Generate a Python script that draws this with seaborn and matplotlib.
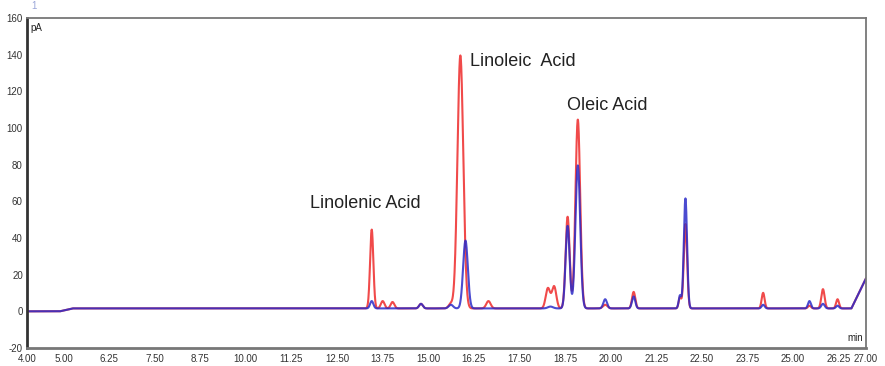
import numpy as np
import pandas as pd
import matplotlib
matplotlib.use("Agg")
import matplotlib.pyplot as plt
import seaborn as sns
from matplotlib.ticker import MultipleLocator, FixedLocator

# ---- data (peak retention time [min], height [pA], width sigma [min])
red_rt     = [13.45, 13.75, 14.02, 14.80, 15.62, 15.88, 16.65, 18.28, 18.45, 18.82, 19.10, 19.85, 20.63, 21.90, 22.05, 24.18, 25.45, 25.82, 26.22]
red_height = [43.0,  4.0,   3.5,   2.5,   2.5,   138.0, 4.0,   11.0,  12.0,  50.0,  103.0, 2.0,   9.0,   6.0,   46.0,  8.5,   1.5,   10.5,  5.0]
red_sigma  = [0.045, 0.05,  0.05,  0.05,  0.06,  0.08,  0.06,  0.06,  0.06,  0.055, 0.065, 0.06,  0.045, 0.035, 0.045, 0.04,  0.04,  0.045, 0.04]

blue_rt     = [13.45, 14.80, 15.62, 16.02, 18.35, 18.82, 19.10, 19.85, 20.63, 21.90, 22.05, 24.18, 25.45, 25.82, 26.22]
blue_height = [4.0,   2.5,   2.0,   37.0,  1.0,   45.0,  78.0,  5.0,   6.5,   7.0,   60.0,  2.0,   4.0,   2.5,   1.5]
blue_sigma  = [0.045, 0.05,  0.06,  0.065, 0.07,  0.055, 0.065, 0.05,  0.045, 0.035, 0.045, 0.04,  0.04,  0.045, 0.04]

# baseline knots (time, pA) and final upward drift
base_t = [4.00, 4.90, 5.25, 26.60, 27.00]
base_v = [0.0,  0.0,  1.6,  1.6,   18.0]

labels   = ["Linolenic Acid", "Linoleic  Acid", "Oleic Acid"]
label_t  = [11.75, 16.14, 18.79]
label_v  = [59.0, 136.0, 112.0]

x_major = [4.00, 5.00, 6.25, 7.50, 8.75, 10.00, 11.25, 12.50, 13.75, 15.00, 16.25,
           17.50, 18.75, 20.00, 21.25, 22.50, 23.75, 25.00, 26.25, 27.00]
y_major = [-20, 0, 20, 40, 60, 80, 100, 120, 140, 160]

# ---- build traces
t = np.linspace(4.0, 27.0, 6000)
def trace(rts, hs, ss):
    y = np.interp(t, base_t, base_v)
    for r, h, s in zip(rts, hs, ss):
        y = y + h * np.exp(-0.5 * ((t - r) / s) ** 2)
    return y

df = pd.concat([
    pd.DataFrame({"t": t, "pA": trace(red_rt, red_height, red_sigma), "run": "A"}),
    pd.DataFrame({"t": t, "pA": trace(blue_rt, blue_height, blue_sigma), "run": "B"}),
])

sns.set_style("white")
plt.rcParams["font.family"] = ["Liberation Sans", "DejaVu Sans"]

fig = plt.figure(figsize=(8.85, 3.66), dpi=100)
ax = fig.add_axes([27/885, 18/366, (866-27)/885, (348-18)/366])

sns.lineplot(data=df, x="t", y="pA", hue="run", palette={"A": "#ee2a2a", "B": "#2b2bc8"},
             ax=ax, legend=False, linewidth=1.5, alpha=0.85, estimator=None, sort=False)

ax.set_xlim(4.0, 27.0)
ax.set_ylim(-20, 160)
ax.set_xlabel("")
ax.set_ylabel("")

ax.xaxis.set_major_locator(FixedLocator(x_major))
ax.set_xticklabels([f"{v:.2f}" for v in x_major])
ax.xaxis.set_minor_locator(MultipleLocator(0.25))
ax.yaxis.set_major_locator(FixedLocator(y_major))
ax.set_yticklabels([str(v) for v in y_major])
ax.yaxis.set_minor_locator(MultipleLocator(5))

ax.tick_params(axis="both", which="major", direction="out", length=3, width=0.8,
               labelsize=7, colors="#333333", pad=1)
ax.tick_params(axis="both", which="minor", direction="out", length=2, width=0.6, colors="#333333")
ax.tick_params(axis="y", pad=0)

for side in ["top", "right"]:
    ax.spines[side].set_color("#777777")
    ax.spines[side].set_linewidth(1.3)
ax.spines["left"].set_color("#333333")
ax.spines["left"].set_linewidth(2.0)
ax.spines["bottom"].set_color("#777777")
ax.spines["bottom"].set_linewidth(2.0)

for lab, lt, lv in zip(labels, label_t, label_v):
    ax.text(lt, lv, lab, fontsize=13, color="#222222", ha="left", va="center")

ax.text(0.004, 0.985, "pA", transform=ax.transAxes, fontsize=7, va="top", ha="left", color="#222222")
ax.text(0.997, 0.015, "min", transform=ax.transAxes, fontsize=7, va="bottom", ha="right", color="#222222")
fig.text(31/885, 1 - 6/366, "1", fontsize=7, color="#9aa6d8", va="center", ha="left")

fig.savefig("out.png", dpi=100)
